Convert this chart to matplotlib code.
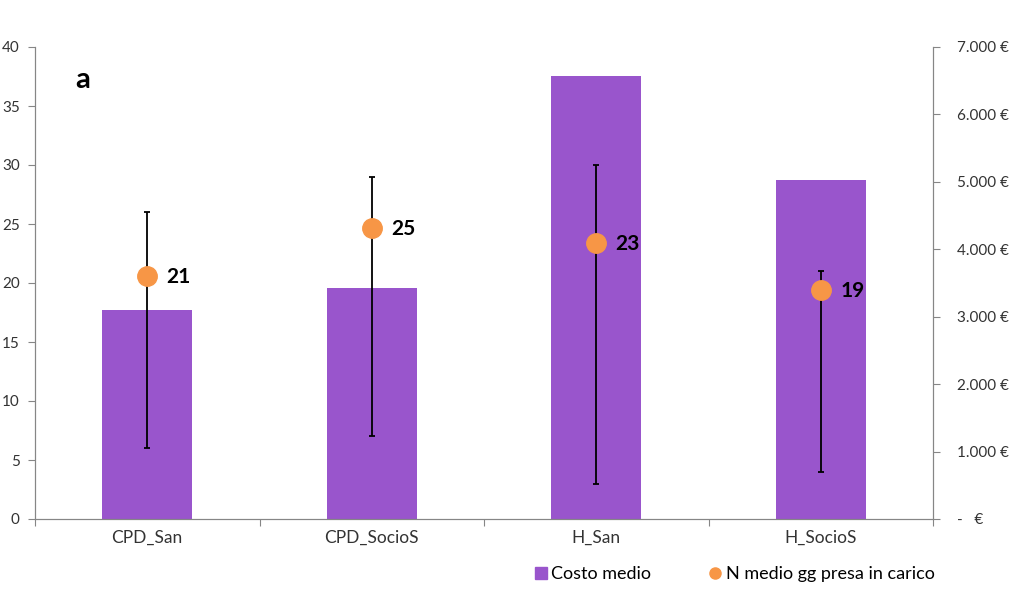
import matplotlib.pyplot as plt
import numpy as np
from matplotlib.lines import Line2D
from matplotlib.ticker import FuncFormatter

plt.rcParams["font.family"] = ["Lato", "DejaVu Sans"]

categories = ["CPD_San", "CPD_SocioS", "H_San", "H_SocioS"]
costo_medio = [3100, 3430, 6570, 5030]
gg_medio = [20.6, 24.7, 23.4, 19.4]
gg_labels = ["21", "25", "23", "19"]
err_high = [26, 29, 30, 21]
err_low = [6, 7, 3, 4]

purple = "#9955cc"
orange = "#f79646"
axis_grey = "#868686"
text_col = "#333333"

fig = plt.figure(figsize=(10.24, 6.02), dpi=100)
ax = fig.add_axes([35 / 1024, 1 - 519 / 602, (933 - 35) / 1024, (519 - 47) / 602])
x = np.arange(len(categories))

# bars on the right (euro) scale
ax.bar(x, costo_medio, width=0.4, color=purple, label="Costo medio", zorder=2)
ax.set_ylim(0, 7000)
ax.set_xlim(-0.5, len(categories) - 0.5)

# points on the left (days) scale
ax2 = ax.twinx()
ax2.set_ylim(0, 40)
ax2.set_yticks(np.arange(0, 41, 5))
yerr = [np.array(gg_medio) - np.array(err_low), np.array(err_high) - np.array(gg_medio)]
ax2.errorbar(x, gg_medio, yerr=yerr, fmt="none", ecolor="black", elinewidth=1.3,
             capsize=2.5, capthick=1.3, zorder=3)
ax2.plot(x, gg_medio, "o", color=orange, markersize=14, zorder=4,
         label="N medio gg presa in carico")
for xi, yi, lab in zip(x, gg_medio, gg_labels):
    ax2.annotate(lab, (xi, yi), xytext=(14, -1), textcoords="offset points",
                 ha="left", va="center", fontsize=15, fontweight="bold", color="black")

# swap sides: euro on the right, days on the left
ax.yaxis.tick_right()
ax.yaxis.set_label_position("right")
ax2.yaxis.tick_left()
ax2.yaxis.set_label_position("left")
ax.set_yticks(np.arange(0, 7001, 1000))


def euro(v, pos):
    if v == 0:
        return "-   €"
    return f"{int(v):,}".replace(",", ".") + " €"


ax.yaxis.set_major_formatter(FuncFormatter(euro))

for a in (ax, ax2):
    a.spines["top"].set_visible(False)
    for side in ("left", "right", "bottom"):
        a.spines[side].set_color(axis_grey)
    a.tick_params(axis="y", colors=axis_grey, labelcolor=text_col, labelsize=11, length=5)

ax.set_xticks(np.arange(-0.5, len(categories), 1.0))
ax.set_xticklabels([])
ax.set_xticks(x, minor=True)
ax.set_xticklabels(categories, minor=True, fontsize=12.5, color=text_col)
ax.tick_params(axis="x", which="major", length=5, colors=axis_grey)
ax.tick_params(axis="x", which="minor", length=0, pad=8)
ax2.tick_params(axis="y", pad=6)
ax.tick_params(axis="y", pad=12)

fig.text(83 / 1024, 1 - 80 / 602, "a", fontsize=21, fontweight="bold", ha="center", va="center")

handles = [Line2D([], [], marker="s", color=purple, linestyle="none", markersize=8),
           Line2D([], [], marker="o", color=orange, linestyle="none", markersize=8)]
fig.legend(handles, ["Costo medio", "N medio gg presa in carico"], loc="center",
           bbox_to_anchor=(733 / 1024, 1 - 574 / 602), ncol=2, frameon=False,
           fontsize=13, handletextpad=0.1, columnspacing=3.0, handlelength=1.0)

fig.savefig("out.png", dpi=100)
